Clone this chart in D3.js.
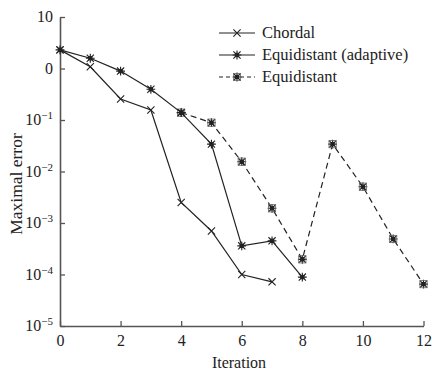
<html>
  <head>
    <script src="https://d3js.org/d3.v7.min.js"></script>
    <style>
      body { margin: 0; background: #fff; }
      text { font-family: "Liberation Serif", "DejaVu Serif", serif; fill: #222; }
    </style>
  </head>
  <body>
    <svg id="graph" width="432" height="374"></svg>
    <script>
      const iterations = [0, 1, 2, 3, 4, 5, 6, 7, 8, 9, 10, 11, 12];
      const chordal = [2.3, 1.08, 0.256, 0.156, 0.0025, 0.0007, 0.0001, 0.000072];
      const adaptive = [2.3, 1.58, 0.89, 0.395, 0.139, 0.034, 0.00036, 0.00045, 0.000089];
      const equidistant = [2.3, 1.58, 0.89, 0.395, 0.139, 0.0887, 0.0155, 0.00193, 0.000197,
        0.034, 0.00507, 0.00049, 0.000065];
      const xTicks = [0, 2, 4, 6, 8, 10, 12];
      const yTicks = [10, 1, 1e-1, 1e-2, 1e-3, 1e-4, 1e-5];
      const yTickBase = ["10", "0", "10", "10", "10", "10", "10"];
      const yTickExp = ["", "", "\u22121", "\u22122", "\u22123", "\u22124", "\u22125"];
      const seriesNames = ["Chordal", "Equidistant (adaptive)", "Equidistant"];

      const svg = d3.select("#graph");
      const x = d3.scaleLinear().domain([0, 12]).range([60, 423.5]);
      const y = d3.scaleLog().domain([1e-5, 10]).range([326, 17]);
      const ink = "#222";

      // axes (ticks point inward)
      const xAxis = svg.append("g")
        .attr("transform", `translate(0, ${y(1e-5)})`)
        .call(d3.axisBottom(x).tickValues(xTicks).tickSizeInner(-5).tickSizeOuter(0).tickPadding(9));
      const yAxis = svg.append("g")
        .attr("transform", `translate(${x(0)}, 0)`)
        .call(d3.axisLeft(y).tickValues(yTicks).tickSizeInner(-5).tickSizeOuter(0).tickFormat(""));
      svg.selectAll(".domain").attr("stroke", "#555").attr("stroke-width", 1.6);
      svg.selectAll(".tick line").attr("stroke", "#555").attr("stroke-width", 1.3);
      xAxis.attr("font-family", null);
      xAxis.selectAll("text")
        .style("font-family", '"Liberation Serif", serif')
        .style("font-size", "16px").attr("fill", ink);

      const yl = svg.append("g").selectAll("text")
        .data(yTicks)
        .enter()
        .append("text")
        .attr("x", 53)
        .attr("y", (d) => y(d) + 5)
        .attr("text-anchor", "end")
        .style("font-size", "16px");
      yl.append("tspan").text((d, i) => yTickBase[i]);
      yl.append("tspan")
        .attr("dy", -6)
        .style("font-size", "11px")
        .text((d, i) => yTickExp[i]);

      svg.append("text")
        .attr("x", 239)
        .attr("y", 368)
        .attr("text-anchor", "middle")
        .style("font-size", "16px")
        .text("Iteration");
      svg.append("text")
        .attr("transform", "translate(22, 184) rotate(-90)")
        .attr("text-anchor", "middle")
        .style("font-size", "17.5px")
        .text("Maximal error");

      // markers
      function drawMarker(g, kind, cx, cy) {
        const r = 3.6;
        const p = g.append("g").attr("transform", `translate(${cx}, ${cy})`)
          .attr("stroke", ink).attr("stroke-width", 1.1).attr("fill", "none");
        p.append("path").attr("d", `M${-r},${-r}L${r},${r}M${-r},${r}L${r},${-r}`);
        if (kind !== "x") {
          p.append("path").attr("d", `M0,${-r - 0.8}L0,${r + 0.8}M${-r - 0.8},0L${r + 0.8},0`);
          p.append("rect").attr("x", -1.6).attr("y", -1.6).attr("width", 3.2).attr("height", 3.2)
            .attr("fill", ink);
        }
        if (kind === "box") {
          p.append("rect").attr("x", -r).attr("y", -r).attr("width", 2 * r).attr("height", 2 * r)
            .attr("stroke-width", 0.8).attr("stroke", "#666");
        }
      }

      const series = [
        { values: equidistant, kind: "box", dash: "6,4", from: 4 },
        { values: adaptive, kind: "star", dash: null, from: 0 },
        { values: chordal, kind: "x", dash: null, from: 0 },
      ];
      series.forEach((s) => {
        const pts = s.values.map((v, i) => [iterations[i], v]).slice(s.from);
        svg.append("path")
          .datum(pts)
          .attr("d", d3.line().x((d) => x(d[0])).y((d) => y(d[1])))
          .attr("fill", "none")
          .attr("stroke", ink)
          .attr("stroke-width", 1.2)
          .attr("stroke-dasharray", s.dash);
        const mg = svg.append("g");
        pts.forEach((d) => drawMarker(mg, s.kind, x(d[0]), y(d[1])));
      });

      // legend
      const legendKinds = ["x", "star", "box"];
      const legendDash = [null, null, "4,3"];
      const lg = svg.append("g");
      seriesNames.forEach((name, i) => {
        const ly = 33 + i * 22;
        lg.append("line")
          .attr("x1", 219).attr("x2", 255).attr("y1", ly).attr("y2", ly)
          .attr("stroke", ink).attr("stroke-width", 1.2)
          .attr("stroke-dasharray", legendDash[i]);
        drawMarker(lg, legendKinds[i], 237, ly);
        lg.append("text")
          .attr("x", 262).attr("y", ly + 5)
          .style("font-size", "16.5px")
          .text(name);
      });
    </script>
  </body>
</html>
